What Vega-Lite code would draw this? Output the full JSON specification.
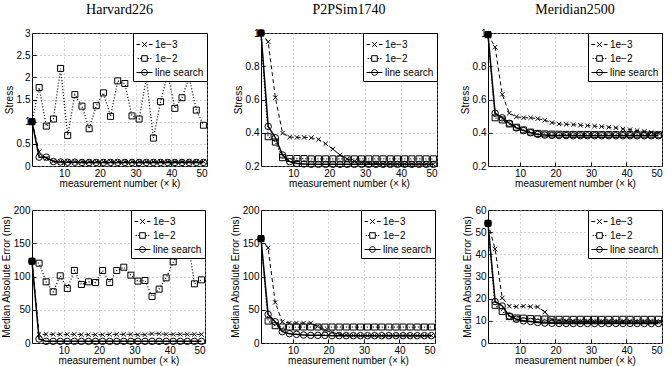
{
"$schema": "https://vega.github.io/schema/vega-lite/v6.json",
"padding": {"left": 0, "top": 2, "right": 0, "bottom": 0},
"background": "white",
"datasets": {
"p1": [
{"s":"1e−3","x":1,"y":1},{"s":"1e−3","x":3,"y":0.32},{"s":"1e−3","x":5,"y":0.17},{"s":"1e−3","x":7,"y":0.11},{"s":"1e−3","x":9,"y":0.1},{"s":"1e−3","x":11,"y":0.1},{"s":"1e−3","x":13,"y":0.1},{"s":"1e−3","x":15,"y":0.1},{"s":"1e−3","x":17,"y":0.1},{"s":"1e−3","x":19,"y":0.1},{"s":"1e−3","x":21,"y":0.1},{"s":"1e−3","x":23,"y":0.1},{"s":"1e−3","x":25,"y":0.1},{"s":"1e−3","x":27,"y":0.1},{"s":"1e−3","x":29,"y":0.1},{"s":"1e−3","x":31,"y":0.1},{"s":"1e−3","x":33,"y":0.1},{"s":"1e−3","x":35,"y":0.1},{"s":"1e−3","x":37,"y":0.1},{"s":"1e−3","x":39,"y":0.1},{"s":"1e−3","x":41,"y":0.1},{"s":"1e−3","x":43,"y":0.1},{"s":"1e−3","x":45,"y":0.1},{"s":"1e−3","x":47,"y":0.1},{"s":"1e−3","x":49,"y":0.1},
{"s":"1e−2","x":1,"y":1},{"s":"1e−2","x":3,"y":1.77},{"s":"1e−2","x":5,"y":0.9},{"s":"1e−2","x":7,"y":1.06},{"s":"1e−2","x":9,"y":2.2},{"s":"1e−2","x":11,"y":0.69},{"s":"1e−2","x":13,"y":1.61},{"s":"1e−2","x":15,"y":1.35},{"s":"1e−2","x":17,"y":0.84},{"s":"1e−2","x":19,"y":1.36},{"s":"1e−2","x":21,"y":1.65},{"s":"1e−2","x":23,"y":1.12},{"s":"1e−2","x":25,"y":1.92},{"s":"1e−2","x":27,"y":1.86},{"s":"1e−2","x":29,"y":1.13},{"s":"1e−2","x":31,"y":1.06},{"s":"1e−2","x":33,"y":1.98},{"s":"1e−2","x":35,"y":0.63},{"s":"1e−2","x":37,"y":1.45},{"s":"1e−2","x":39,"y":2.08},{"s":"1e−2","x":41,"y":1.3},{"s":"1e−2","x":43,"y":1.54},{"s":"1e−2","x":45,"y":2.0},{"s":"1e−2","x":47,"y":1.26},{"s":"1e−2","x":49,"y":0.92},
{"s":"line search","x":1,"y":1},{"s":"line search","x":3,"y":0.2},{"s":"line search","x":5,"y":0.2},{"s":"line search","x":7,"y":0.1},{"s":"line search","x":9,"y":0.09},{"s":"line search","x":11,"y":0.085},{"s":"line search","x":13,"y":0.085},{"s":"line search","x":15,"y":0.08},{"s":"line search","x":17,"y":0.08},{"s":"line search","x":19,"y":0.08},{"s":"line search","x":21,"y":0.08},{"s":"line search","x":23,"y":0.08},{"s":"line search","x":25,"y":0.08},{"s":"line search","x":27,"y":0.08},{"s":"line search","x":29,"y":0.08},{"s":"line search","x":31,"y":0.08},{"s":"line search","x":33,"y":0.08},{"s":"line search","x":35,"y":0.08},{"s":"line search","x":37,"y":0.08},{"s":"line search","x":39,"y":0.08},{"s":"line search","x":41,"y":0.08},{"s":"line search","x":43,"y":0.08},{"s":"line search","x":45,"y":0.08},{"s":"line search","x":47,"y":0.08},{"s":"line search","x":49,"y":0.08}
],
"p2": [
{"s":"1e−3","x":1,"y":1},{"s":"1e−3","x":3,"y":0.947},{"s":"1e−3","x":5,"y":0.611},{"s":"1e−3","x":7,"y":0.398},{"s":"1e−3","x":9,"y":0.374},{"s":"1e−3","x":11,"y":0.372},{"s":"1e−3","x":13,"y":0.372},{"s":"1e−3","x":15,"y":0.37},{"s":"1e−3","x":17,"y":0.36},{"s":"1e−3","x":19,"y":0.334},{"s":"1e−3","x":21,"y":0.302},{"s":"1e−3","x":23,"y":0.266},{"s":"1e−3","x":25,"y":0.242},{"s":"1e−3","x":27,"y":0.228},{"s":"1e−3","x":29,"y":0.222},{"s":"1e−3","x":31,"y":0.218},{"s":"1e−3","x":33,"y":0.215},{"s":"1e−3","x":35,"y":0.213},{"s":"1e−3","x":37,"y":0.212},{"s":"1e−3","x":39,"y":0.211},{"s":"1e−3","x":41,"y":0.21},{"s":"1e−3","x":43,"y":0.21},{"s":"1e−3","x":45,"y":0.21},{"s":"1e−3","x":47,"y":0.21},{"s":"1e−3","x":49,"y":0.21},
{"s":"1e−2","x":1,"y":1},{"s":"1e−2","x":3,"y":0.376},{"s":"1e−2","x":5,"y":0.344},{"s":"1e−2","x":7,"y":0.25},{"s":"1e−2","x":9,"y":0.245},{"s":"1e−2","x":11,"y":0.245},{"s":"1e−2","x":13,"y":0.245},{"s":"1e−2","x":15,"y":0.243},{"s":"1e−2","x":17,"y":0.243},{"s":"1e−2","x":19,"y":0.243},{"s":"1e−2","x":21,"y":0.243},{"s":"1e−2","x":23,"y":0.243},{"s":"1e−2","x":25,"y":0.243},{"s":"1e−2","x":27,"y":0.243},{"s":"1e−2","x":29,"y":0.243},{"s":"1e−2","x":31,"y":0.243},{"s":"1e−2","x":33,"y":0.243},{"s":"1e−2","x":35,"y":0.243},{"s":"1e−2","x":37,"y":0.243},{"s":"1e−2","x":39,"y":0.243},{"s":"1e−2","x":41,"y":0.243},{"s":"1e−2","x":43,"y":0.243},{"s":"1e−2","x":45,"y":0.243},{"s":"1e−2","x":47,"y":0.243},{"s":"1e−2","x":49,"y":0.243},
{"s":"line search","x":1,"y":1},{"s":"line search","x":3,"y":0.438},{"s":"line search","x":5,"y":0.37},{"s":"line search","x":7,"y":0.266},{"s":"line search","x":9,"y":0.226},{"s":"line search","x":11,"y":0.215},{"s":"line search","x":13,"y":0.212},{"s":"line search","x":15,"y":0.21},{"s":"line search","x":17,"y":0.21},{"s":"line search","x":19,"y":0.21},{"s":"line search","x":21,"y":0.21},{"s":"line search","x":23,"y":0.21},{"s":"line search","x":25,"y":0.21},{"s":"line search","x":27,"y":0.21},{"s":"line search","x":29,"y":0.21},{"s":"line search","x":31,"y":0.21},{"s":"line search","x":33,"y":0.21},{"s":"line search","x":35,"y":0.21},{"s":"line search","x":37,"y":0.21},{"s":"line search","x":39,"y":0.21},{"s":"line search","x":41,"y":0.21},{"s":"line search","x":43,"y":0.21},{"s":"line search","x":45,"y":0.21},{"s":"line search","x":47,"y":0.21},{"s":"line search","x":49,"y":0.21}
],
"p3": [
{"s":"1e−3","x":1,"y":0.99},{"s":"1e−3","x":3,"y":0.915},{"s":"1e−3","x":5,"y":0.631},{"s":"1e−3","x":7,"y":0.518},{"s":"1e−3","x":9,"y":0.496},{"s":"1e−3","x":11,"y":0.49},{"s":"1e−3","x":13,"y":0.49},{"s":"1e−3","x":15,"y":0.485},{"s":"1e−3","x":17,"y":0.475},{"s":"1e−3","x":19,"y":0.461},{"s":"1e−3","x":21,"y":0.453},{"s":"1e−3","x":23,"y":0.451},{"s":"1e−3","x":25,"y":0.449},{"s":"1e−3","x":27,"y":0.445},{"s":"1e−3","x":29,"y":0.443},{"s":"1e−3","x":31,"y":0.44},{"s":"1e−3","x":33,"y":0.437},{"s":"1e−3","x":35,"y":0.433},{"s":"1e−3","x":37,"y":0.43},{"s":"1e−3","x":39,"y":0.423},{"s":"1e−3","x":41,"y":0.419},{"s":"1e−3","x":43,"y":0.413},{"s":"1e−3","x":45,"y":0.408},{"s":"1e−3","x":47,"y":0.402},{"s":"1e−3","x":49,"y":0.398},
{"s":"1e−2","x":1,"y":0.99},{"s":"1e−2","x":3,"y":0.49},{"s":"1e−2","x":5,"y":0.477},{"s":"1e−2","x":7,"y":0.453},{"s":"1e−2","x":9,"y":0.433},{"s":"1e−2","x":11,"y":0.417},{"s":"1e−2","x":13,"y":0.404},{"s":"1e−2","x":15,"y":0.396},{"s":"1e−2","x":17,"y":0.393},{"s":"1e−2","x":19,"y":0.392},{"s":"1e−2","x":21,"y":0.391},{"s":"1e−2","x":23,"y":0.39},{"s":"1e−2","x":25,"y":0.39},{"s":"1e−2","x":27,"y":0.39},{"s":"1e−2","x":29,"y":0.39},{"s":"1e−2","x":31,"y":0.389},{"s":"1e−2","x":33,"y":0.389},{"s":"1e−2","x":35,"y":0.389},{"s":"1e−2","x":37,"y":0.389},{"s":"1e−2","x":39,"y":0.389},{"s":"1e−2","x":41,"y":0.389},{"s":"1e−2","x":43,"y":0.388},{"s":"1e−2","x":45,"y":0.388},{"s":"1e−2","x":47,"y":0.388},{"s":"1e−2","x":49,"y":0.388},
{"s":"line search","x":1,"y":0.99},{"s":"line search","x":3,"y":0.518},{"s":"line search","x":5,"y":0.49},{"s":"line search","x":7,"y":0.457},{"s":"line search","x":9,"y":0.429},{"s":"line search","x":11,"y":0.413},{"s":"line search","x":13,"y":0.4},{"s":"line search","x":15,"y":0.39},{"s":"line search","x":17,"y":0.386},{"s":"line search","x":19,"y":0.384},{"s":"line search","x":21,"y":0.383},{"s":"line search","x":23,"y":0.383},{"s":"line search","x":25,"y":0.382},{"s":"line search","x":27,"y":0.382},{"s":"line search","x":29,"y":0.382},{"s":"line search","x":31,"y":0.382},{"s":"line search","x":33,"y":0.382},{"s":"line search","x":35,"y":0.382},{"s":"line search","x":37,"y":0.382},{"s":"line search","x":39,"y":0.382},{"s":"line search","x":41,"y":0.382},{"s":"line search","x":43,"y":0.382},{"s":"line search","x":45,"y":0.382},{"s":"line search","x":47,"y":0.382},{"s":"line search","x":49,"y":0.382}
],
"p4": [
{"s":"1e−3","x":1,"y":123},{"s":"1e−3","x":3,"y":13},{"s":"1e−3","x":5,"y":13},{"s":"1e−3","x":7,"y":13},{"s":"1e−3","x":9,"y":13},{"s":"1e−3","x":11,"y":13},{"s":"1e−3","x":13,"y":13},{"s":"1e−3","x":15,"y":12.5},{"s":"1e−3","x":17,"y":12.5},{"s":"1e−3","x":19,"y":12.5},{"s":"1e−3","x":21,"y":12.5},{"s":"1e−3","x":23,"y":13},{"s":"1e−3","x":25,"y":13},{"s":"1e−3","x":27,"y":13},{"s":"1e−3","x":29,"y":13},{"s":"1e−3","x":31,"y":12.5},{"s":"1e−3","x":33,"y":12.5},{"s":"1e−3","x":35,"y":14},{"s":"1e−3","x":37,"y":14},{"s":"1e−3","x":39,"y":13},{"s":"1e−3","x":41,"y":13},{"s":"1e−3","x":43,"y":13},{"s":"1e−3","x":45,"y":13},{"s":"1e−3","x":47,"y":13},{"s":"1e−3","x":49,"y":13},
{"s":"1e−2","x":1,"y":123},{"s":"1e−2","x":3,"y":120},{"s":"1e−2","x":5,"y":92},{"s":"1e−2","x":7,"y":77},{"s":"1e−2","x":9,"y":101},{"s":"1e−2","x":11,"y":82},{"s":"1e−2","x":13,"y":109},{"s":"1e−2","x":15,"y":88},{"s":"1e−2","x":17,"y":92},{"s":"1e−2","x":19,"y":91},{"s":"1e−2","x":21,"y":109},{"s":"1e−2","x":23,"y":91},{"s":"1e−2","x":25,"y":109},{"s":"1e−2","x":27,"y":114},{"s":"1e−2","x":29,"y":102},{"s":"1e−2","x":31,"y":93},{"s":"1e−2","x":33,"y":94},{"s":"1e−2","x":35,"y":70},{"s":"1e−2","x":37,"y":81},{"s":"1e−2","x":39,"y":98},{"s":"1e−2","x":41,"y":122},{"s":"1e−2","x":43,"y":138},{"s":"1e−2","x":45,"y":160},{"s":"1e−2","x":47,"y":89},{"s":"1e−2","x":49,"y":95},
{"s":"line search","x":1,"y":123},{"s":"line search","x":3,"y":6},{"s":"line search","x":5,"y":2.5},{"s":"line search","x":7,"y":2.5},{"s":"line search","x":9,"y":2.5},{"s":"line search","x":11,"y":2.5},{"s":"line search","x":13,"y":2.5},{"s":"line search","x":15,"y":2.5},{"s":"line search","x":17,"y":2.5},{"s":"line search","x":19,"y":2.5},{"s":"line search","x":21,"y":2.5},{"s":"line search","x":23,"y":2.5},{"s":"line search","x":25,"y":2.5},{"s":"line search","x":27,"y":2.5},{"s":"line search","x":29,"y":2.5},{"s":"line search","x":31,"y":2.5},{"s":"line search","x":33,"y":2.5},{"s":"line search","x":35,"y":2.5},{"s":"line search","x":37,"y":2.5},{"s":"line search","x":39,"y":2.5},{"s":"line search","x":41,"y":2.5},{"s":"line search","x":43,"y":2.5},{"s":"line search","x":45,"y":2.5},{"s":"line search","x":47,"y":2.5},{"s":"line search","x":49,"y":2.5}
],
"p5": [
{"s":"1e−3","x":1,"y":157},{"s":"1e−3","x":3,"y":143},{"s":"1e−3","x":5,"y":61},{"s":"1e−3","x":7,"y":32},{"s":"1e−3","x":9,"y":30},{"s":"1e−3","x":11,"y":30},{"s":"1e−3","x":13,"y":30},{"s":"1e−3","x":15,"y":30},{"s":"1e−3","x":17,"y":25},{"s":"1e−3","x":19,"y":19},{"s":"1e−3","x":21,"y":16},{"s":"1e−3","x":23,"y":13},{"s":"1e−3","x":25,"y":12},{"s":"1e−3","x":27,"y":11.5},{"s":"1e−3","x":29,"y":11},{"s":"1e−3","x":31,"y":11},{"s":"1e−3","x":33,"y":11},{"s":"1e−3","x":35,"y":11},{"s":"1e−3","x":37,"y":11},{"s":"1e−3","x":39,"y":11},{"s":"1e−3","x":41,"y":11},{"s":"1e−3","x":43,"y":11},{"s":"1e−3","x":45,"y":11},{"s":"1e−3","x":47,"y":11},{"s":"1e−3","x":49,"y":11},
{"s":"1e−2","x":1,"y":157},{"s":"1e−2","x":3,"y":33},{"s":"1e−2","x":5,"y":26},{"s":"1e−2","x":7,"y":24},{"s":"1e−2","x":9,"y":24},{"s":"1e−2","x":11,"y":24},{"s":"1e−2","x":13,"y":24},{"s":"1e−2","x":15,"y":24},{"s":"1e−2","x":17,"y":24},{"s":"1e−2","x":19,"y":24},{"s":"1e−2","x":21,"y":24},{"s":"1e−2","x":23,"y":24},{"s":"1e−2","x":25,"y":24},{"s":"1e−2","x":27,"y":24},{"s":"1e−2","x":29,"y":24},{"s":"1e−2","x":31,"y":24},{"s":"1e−2","x":33,"y":24},{"s":"1e−2","x":35,"y":24},{"s":"1e−2","x":37,"y":24},{"s":"1e−2","x":39,"y":24},{"s":"1e−2","x":41,"y":24},{"s":"1e−2","x":43,"y":24},{"s":"1e−2","x":45,"y":24},{"s":"1e−2","x":47,"y":24},{"s":"1e−2","x":49,"y":24},
{"s":"line search","x":1,"y":157},{"s":"line search","x":3,"y":43},{"s":"line search","x":5,"y":32},{"s":"line search","x":7,"y":17},{"s":"line search","x":9,"y":14},{"s":"line search","x":11,"y":13},{"s":"line search","x":13,"y":12},{"s":"line search","x":15,"y":11.5},{"s":"line search","x":17,"y":11.5},{"s":"line search","x":19,"y":11.5},{"s":"line search","x":21,"y":11},{"s":"line search","x":23,"y":11},{"s":"line search","x":25,"y":11},{"s":"line search","x":27,"y":11},{"s":"line search","x":29,"y":11},{"s":"line search","x":31,"y":11},{"s":"line search","x":33,"y":11},{"s":"line search","x":35,"y":11},{"s":"line search","x":37,"y":11},{"s":"line search","x":39,"y":11},{"s":"line search","x":41,"y":11},{"s":"line search","x":43,"y":11},{"s":"line search","x":45,"y":11},{"s":"line search","x":47,"y":11},{"s":"line search","x":49,"y":11}
],
"p6": [
{"s":"1e−3","x":1,"y":54},{"s":"1e−3","x":3,"y":42.4},{"s":"1e−3","x":5,"y":20.3},{"s":"1e−3","x":7,"y":16.6},{"s":"1e−3","x":9,"y":16.4},{"s":"1e−3","x":11,"y":16.6},{"s":"1e−3","x":13,"y":16.4},{"s":"1e−3","x":15,"y":16.3},{"s":"1e−3","x":17,"y":14},{"s":"1e−3","x":19,"y":10.6},{"s":"1e−3","x":21,"y":10.1},{"s":"1e−3","x":23,"y":9.9},{"s":"1e−3","x":25,"y":9.8},{"s":"1e−3","x":27,"y":9.7},{"s":"1e−3","x":29,"y":9.7},{"s":"1e−3","x":31,"y":9.6},{"s":"1e−3","x":33,"y":9.6},{"s":"1e−3","x":35,"y":9.5},{"s":"1e−3","x":37,"y":9.5},{"s":"1e−3","x":39,"y":9.5},{"s":"1e−3","x":41,"y":9.4},{"s":"1e−3","x":43,"y":9.4},{"s":"1e−3","x":45,"y":9.4},{"s":"1e−3","x":47,"y":9.4},{"s":"1e−3","x":49,"y":9.4},
{"s":"1e−2","x":1,"y":54},{"s":"1e−2","x":3,"y":17},{"s":"1e−2","x":5,"y":14.2},{"s":"1e−2","x":7,"y":11.9},{"s":"1e−2","x":9,"y":11.3},{"s":"1e−2","x":11,"y":11.2},{"s":"1e−2","x":13,"y":11},{"s":"1e−2","x":15,"y":10.9},{"s":"1e−2","x":17,"y":10.8},{"s":"1e−2","x":19,"y":10.7},{"s":"1e−2","x":21,"y":10.7},{"s":"1e−2","x":23,"y":10.7},{"s":"1e−2","x":25,"y":10.7},{"s":"1e−2","x":27,"y":10.7},{"s":"1e−2","x":29,"y":10.7},{"s":"1e−2","x":31,"y":10.7},{"s":"1e−2","x":33,"y":10.7},{"s":"1e−2","x":35,"y":10.7},{"s":"1e−2","x":37,"y":10.7},{"s":"1e−2","x":39,"y":10.7},{"s":"1e−2","x":41,"y":10.7},{"s":"1e−2","x":43,"y":10.7},{"s":"1e−2","x":45,"y":10.7},{"s":"1e−2","x":47,"y":10.7},{"s":"1e−2","x":49,"y":10.7},
{"s":"line search","x":1,"y":54},{"s":"line search","x":3,"y":18.7},{"s":"line search","x":5,"y":16.7},{"s":"line search","x":7,"y":12.2},{"s":"line search","x":9,"y":10.7},{"s":"line search","x":11,"y":10},{"s":"line search","x":13,"y":9.7},{"s":"line search","x":15,"y":9.25},{"s":"line search","x":17,"y":9},{"s":"line search","x":19,"y":8.9},{"s":"line search","x":21,"y":8.8},{"s":"line search","x":23,"y":8.8},{"s":"line search","x":25,"y":8.8},{"s":"line search","x":27,"y":8.8},{"s":"line search","x":29,"y":8.8},{"s":"line search","x":31,"y":8.8},{"s":"line search","x":33,"y":8.8},{"s":"line search","x":35,"y":8.8},{"s":"line search","x":37,"y":8.8},{"s":"line search","x":39,"y":8.8},{"s":"line search","x":41,"y":8.8},{"s":"line search","x":43,"y":8.8},{"s":"line search","x":45,"y":8.8},{"s":"line search","x":47,"y":8.8},{"s":"line search","x":49,"y":8.8}
]
},
"columns": 3,
"align": "each",
"spacing": {"row": 15, "column": 17},
"resolve": {"scale": {"strokeDash": "independent", "shape": "independent", "strokeWidth": "independent", "size": "independent"}, "legend": {"strokeDash": "independent", "shape": "independent", "strokeWidth": "independent", "size": "independent"}},
"concat": [
{"title": "Harvard226", "width": 175, "height": 133, "data": {"name": "p1"},
 "encoding": {"x": {"field": "x", "type": "quantitative", "scale": {"domain": [1, 50]}, "axis": {"values": [10,20,30,40,50], "title": "measurement number (× k)"}},
   "y": {"field": "y", "type": "quantitative", "scale": {"domain": [0, 3]}, "axis": {"values": [0,0.5,1,1.5,2,2.5,3], "format": "~r", "title": "Stress"}}},
 "resolve": {"scale": {"shape": "independent"}, "legend": {"shape": "independent"}},
 "layer": [
  {"mark": {"type": "line", "color": "black"}, "encoding": {"strokeDash": {"field": "s", "type": "nominal", "scale": {"domain": ["line search","1e−2","1e−3"], "range": [[1,0],[1,2],[4,3]]}, "legend": null}, "strokeWidth": {"field": "s", "type": "nominal", "scale": {"domain": ["line search","1e−2","1e−3"], "range": [1.5,1,1]}, "legend": null}}},
  {"mark": {"type": "point", "color": "black", "filled": false, "strokeWidth": 1, "opacity": 1}, "encoding": {"shape": {"field": "s", "type": "nominal", "scale": {"domain": ["line search","1e−2","1e−3"], "range": ["circle","square","M-0.8,-0.8L0.8,0.8M-0.8,0.8L0.8,-0.8"]}, "legend": null}, "size": {"field": "s", "type": "nominal", "scale": {"domain": ["line search","1e−2","1e−3"], "range": [42,30,25]}, "legend": null}, "fill": {"condition": {"test": "datum.x === 1 && datum.s === 'line search'", "value": "black"}, "value": "transparent"}}},
  {"mark": {"type": "point", "color": "black", "filled": false, "strokeWidth": 1, "opacity": 0, "size": 256}, "encoding": {"shape": {"field": "s", "type": "nominal", "scale": {"domain": ["1e−3","1e−2","line search"], "range": ["M-1,0L-0.55,0M0.55,0L1,0M-0.3,-0.3L0.3,0.3M-0.3,0.3L0.3,-0.3","M-0.85,0L-0.7,0M-0.55,0L-0.4,0M0.4,0L0.55,0M0.7,0L0.85,0M-0.35,-0.35L0.35,-0.35L0.35,0.35L-0.35,0.35Z","M-1,0L1,0M0.35,0A0.35,0.35,0,1,1,-0.35,0A0.35,0.35,0,1,1,0.35,0Z"]}, "legend": {"title": null}}}}
 ]},
{"title": "P2PSim1740", "width": 176, "height": 133, "data": {"name": "p2"},
 "encoding": {"x": {"field": "x", "type": "quantitative", "scale": {"domain": [1, 50]}, "axis": {"values": [10,20,30,40,50], "title": "measurement number (× k)"}},
   "y": {"field": "y", "type": "quantitative", "scale": {"domain": [0.2, 1]}, "axis": {"values": [0.2,0.4,0.6,0.8,1], "format": "~r", "title": "Stress"}}},
 "resolve": {"scale": {"shape": "independent"}, "legend": {"shape": "independent"}},
 "layer": [
  {"mark": {"type": "line", "color": "black"}, "encoding": {"strokeDash": {"field": "s", "type": "nominal", "scale": {"domain": ["line search","1e−2","1e−3"], "range": [[1,0],[1,2],[4,3]]}, "legend": null}, "strokeWidth": {"field": "s", "type": "nominal", "scale": {"domain": ["line search","1e−2","1e−3"], "range": [1.5,1,1]}, "legend": null}}},
  {"mark": {"type": "point", "color": "black", "filled": false, "strokeWidth": 1, "opacity": 1}, "encoding": {"shape": {"field": "s", "type": "nominal", "scale": {"domain": ["line search","1e−2","1e−3"], "range": ["circle","square","M-0.8,-0.8L0.8,0.8M-0.8,0.8L0.8,-0.8"]}, "legend": null}, "size": {"field": "s", "type": "nominal", "scale": {"domain": ["line search","1e−2","1e−3"], "range": [42,30,25]}, "legend": null}, "fill": {"condition": {"test": "datum.x === 1 && datum.s === 'line search'", "value": "black"}, "value": "transparent"}}},
  {"mark": {"type": "point", "color": "black", "filled": false, "strokeWidth": 1, "opacity": 0, "size": 256}, "encoding": {"shape": {"field": "s", "type": "nominal", "scale": {"domain": ["1e−3","1e−2","line search"], "range": ["M-1,0L-0.55,0M0.55,0L1,0M-0.3,-0.3L0.3,0.3M-0.3,0.3L0.3,-0.3","M-0.85,0L-0.7,0M-0.55,0L-0.4,0M0.4,0L0.55,0M0.7,0L0.85,0M-0.35,-0.35L0.35,-0.35L0.35,0.35L-0.35,0.35Z","M-1,0L1,0M0.35,0A0.35,0.35,0,1,1,-0.35,0A0.35,0.35,0,1,1,0.35,0Z"]}, "legend": {"title": null}}}}
 ]},
{"title": "Meridian2500", "width": 174, "height": 133, "data": {"name": "p3"},
 "encoding": {"x": {"field": "x", "type": "quantitative", "scale": {"domain": [1, 50]}, "axis": {"values": [10,20,30,40,50], "title": "measurement number (× k)"}},
   "y": {"field": "y", "type": "quantitative", "scale": {"domain": [0.2, 1]}, "axis": {"values": [0.2,0.4,0.6,0.8,1], "format": "~r", "title": "Stress"}}},
 "resolve": {"scale": {"shape": "independent"}, "legend": {"shape": "independent"}},
 "layer": [
  {"mark": {"type": "line", "color": "black"}, "encoding": {"strokeDash": {"field": "s", "type": "nominal", "scale": {"domain": ["line search","1e−2","1e−3"], "range": [[1,0],[1,2],[4,3]]}, "legend": null}, "strokeWidth": {"field": "s", "type": "nominal", "scale": {"domain": ["line search","1e−2","1e−3"], "range": [1.5,1,1]}, "legend": null}}},
  {"mark": {"type": "point", "color": "black", "filled": false, "strokeWidth": 1, "opacity": 1}, "encoding": {"shape": {"field": "s", "type": "nominal", "scale": {"domain": ["line search","1e−2","1e−3"], "range": ["circle","square","M-0.8,-0.8L0.8,0.8M-0.8,0.8L0.8,-0.8"]}, "legend": null}, "size": {"field": "s", "type": "nominal", "scale": {"domain": ["line search","1e−2","1e−3"], "range": [42,30,25]}, "legend": null}, "fill": {"condition": {"test": "datum.x === 1 && datum.s === 'line search'", "value": "black"}, "value": "transparent"}}},
  {"mark": {"type": "point", "color": "black", "filled": false, "strokeWidth": 1, "opacity": 0, "size": 256}, "encoding": {"shape": {"field": "s", "type": "nominal", "scale": {"domain": ["1e−3","1e−2","line search"], "range": ["M-1,0L-0.55,0M0.55,0L1,0M-0.3,-0.3L0.3,0.3M-0.3,0.3L0.3,-0.3","M-0.85,0L-0.7,0M-0.55,0L-0.4,0M0.4,0L0.55,0M0.7,0L0.85,0M-0.35,-0.35L0.35,-0.35L0.35,0.35L-0.35,0.35Z","M-1,0L1,0M0.35,0A0.35,0.35,0,1,1,-0.35,0A0.35,0.35,0,1,1,0.35,0Z"]}, "legend": {"title": null}}}}
 ]},
{"width": 173, "height": 133, "data": {"name": "p4"},
 "encoding": {"x": {"field": "x", "type": "quantitative", "scale": {"domain": [1, 50]}, "axis": {"values": [10,20,30,40,50], "title": "measurement number (× k)"}},
   "y": {"field": "y", "type": "quantitative", "scale": {"domain": [0, 200]}, "axis": {"values": [0,50,100,150,200], "format": "~r", "title": "Median Absolute Error (ms)"}}},
 "resolve": {"scale": {"shape": "independent"}, "legend": {"shape": "independent"}},
 "layer": [
  {"mark": {"type": "line", "color": "black"}, "encoding": {"strokeDash": {"field": "s", "type": "nominal", "scale": {"domain": ["line search","1e−2","1e−3"], "range": [[1,0],[1,2],[4,3]]}, "legend": null}, "strokeWidth": {"field": "s", "type": "nominal", "scale": {"domain": ["line search","1e−2","1e−3"], "range": [1.5,1,1]}, "legend": null}}},
  {"mark": {"type": "point", "color": "black", "filled": false, "strokeWidth": 1, "opacity": 1}, "encoding": {"shape": {"field": "s", "type": "nominal", "scale": {"domain": ["line search","1e−2","1e−3"], "range": ["circle","square","M-0.8,-0.8L0.8,0.8M-0.8,0.8L0.8,-0.8"]}, "legend": null}, "size": {"field": "s", "type": "nominal", "scale": {"domain": ["line search","1e−2","1e−3"], "range": [42,30,25]}, "legend": null}, "fill": {"condition": {"test": "datum.x === 1 && datum.s === 'line search'", "value": "black"}, "value": "transparent"}}},
  {"mark": {"type": "point", "color": "black", "filled": false, "strokeWidth": 1, "opacity": 0, "size": 256}, "encoding": {"shape": {"field": "s", "type": "nominal", "scale": {"domain": ["1e−3","1e−2","line search"], "range": ["M-1,0L-0.55,0M0.55,0L1,0M-0.3,-0.3L0.3,0.3M-0.3,0.3L0.3,-0.3","M-0.85,0L-0.7,0M-0.55,0L-0.4,0M0.4,0L0.55,0M0.7,0L0.85,0M-0.35,-0.35L0.35,-0.35L0.35,0.35L-0.35,0.35Z","M-1,0L1,0M0.35,0A0.35,0.35,0,1,1,-0.35,0A0.35,0.35,0,1,1,0.35,0Z"]}, "legend": {"title": null}}}}
 ]},
{"width": 174, "height": 133, "data": {"name": "p5"},
 "encoding": {"x": {"field": "x", "type": "quantitative", "scale": {"domain": [1, 50]}, "axis": {"values": [10,20,30,40,50], "title": "measurement number (× k)"}},
   "y": {"field": "y", "type": "quantitative", "scale": {"domain": [0, 200]}, "axis": {"values": [0,50,100,150,200], "format": "~r", "title": "Median Absolute Error (ms)"}}},
 "resolve": {"scale": {"shape": "independent"}, "legend": {"shape": "independent"}},
 "layer": [
  {"mark": {"type": "line", "color": "black"}, "encoding": {"strokeDash": {"field": "s", "type": "nominal", "scale": {"domain": ["line search","1e−2","1e−3"], "range": [[1,0],[1,2],[4,3]]}, "legend": null}, "strokeWidth": {"field": "s", "type": "nominal", "scale": {"domain": ["line search","1e−2","1e−3"], "range": [1.5,1,1]}, "legend": null}}},
  {"mark": {"type": "point", "color": "black", "filled": false, "strokeWidth": 1, "opacity": 1}, "encoding": {"shape": {"field": "s", "type": "nominal", "scale": {"domain": ["line search","1e−2","1e−3"], "range": ["circle","square","M-0.8,-0.8L0.8,0.8M-0.8,0.8L0.8,-0.8"]}, "legend": null}, "size": {"field": "s", "type": "nominal", "scale": {"domain": ["line search","1e−2","1e−3"], "range": [42,30,25]}, "legend": null}, "fill": {"condition": {"test": "datum.x === 1 && datum.s === 'line search'", "value": "black"}, "value": "transparent"}}},
  {"mark": {"type": "point", "color": "black", "filled": false, "strokeWidth": 1, "opacity": 0, "size": 256}, "encoding": {"shape": {"field": "s", "type": "nominal", "scale": {"domain": ["1e−3","1e−2","line search"], "range": ["M-1,0L-0.55,0M0.55,0L1,0M-0.3,-0.3L0.3,0.3M-0.3,0.3L0.3,-0.3","M-0.85,0L-0.7,0M-0.55,0L-0.4,0M0.4,0L0.55,0M0.7,0L0.85,0M-0.35,-0.35L0.35,-0.35L0.35,0.35L-0.35,0.35Z","M-1,0L1,0M0.35,0A0.35,0.35,0,1,1,-0.35,0A0.35,0.35,0,1,1,0.35,0Z"]}, "legend": {"title": null}}}}
 ]},
{"width": 174, "height": 133, "data": {"name": "p6"},
 "encoding": {"x": {"field": "x", "type": "quantitative", "scale": {"domain": [1, 50]}, "axis": {"values": [10,20,30,40,50], "title": "measurement number (× k)"}},
   "y": {"field": "y", "type": "quantitative", "scale": {"domain": [0, 60]}, "axis": {"values": [0,10,20,30,40,50,60], "format": "~r", "title": "Median Absolute Error (ms)"}}},
 "resolve": {"scale": {"shape": "independent"}, "legend": {"shape": "independent"}},
 "layer": [
  {"mark": {"type": "line", "color": "black"}, "encoding": {"strokeDash": {"field": "s", "type": "nominal", "scale": {"domain": ["line search","1e−2","1e−3"], "range": [[1,0],[1,2],[4,3]]}, "legend": null}, "strokeWidth": {"field": "s", "type": "nominal", "scale": {"domain": ["line search","1e−2","1e−3"], "range": [1.5,1,1]}, "legend": null}}},
  {"mark": {"type": "point", "color": "black", "filled": false, "strokeWidth": 1, "opacity": 1}, "encoding": {"shape": {"field": "s", "type": "nominal", "scale": {"domain": ["line search","1e−2","1e−3"], "range": ["circle","square","M-0.8,-0.8L0.8,0.8M-0.8,0.8L0.8,-0.8"]}, "legend": null}, "size": {"field": "s", "type": "nominal", "scale": {"domain": ["line search","1e−2","1e−3"], "range": [42,30,25]}, "legend": null}, "fill": {"condition": {"test": "datum.x === 1 && datum.s === 'line search'", "value": "black"}, "value": "transparent"}}},
  {"mark": {"type": "point", "color": "black", "filled": false, "strokeWidth": 1, "opacity": 0, "size": 256}, "encoding": {"shape": {"field": "s", "type": "nominal", "scale": {"domain": ["1e−3","1e−2","line search"], "range": ["M-1,0L-0.55,0M0.55,0L1,0M-0.3,-0.3L0.3,0.3M-0.3,0.3L0.3,-0.3","M-0.85,0L-0.7,0M-0.55,0L-0.4,0M0.4,0L0.55,0M0.7,0L0.85,0M-0.35,-0.35L0.35,-0.35L0.35,0.35L-0.35,0.35Z","M-1,0L1,0M0.35,0A0.35,0.35,0,1,1,-0.35,0A0.35,0.35,0,1,1,0.35,0Z"]}, "legend": {"title": null}}}}
 ]}
],
"config": {
  "font": "Liberation Sans",
  "view": {"stroke": "black", "strokeWidth": 1},
  "axis": {"domain": false, "grid": true, "gridColor": "#a8a8a8", "gridDash": [1, 3], "gridWidth": 1, "labelFont": "Liberation Sans", "labelFontSize": 10, "labelColor": "black", "titleFont": "Liberation Sans", "titleFontSize": 10, "titleFontWeight": "normal", "titleColor": "black", "tickColor": "black", "tickSize": -4, "labelPadding": 6},
  "axisX": {"titlePadding": 0},
  "axisY": {"titlePadding": 2},
  "title": {"font": "Liberation Serif", "fontSize": 14, "fontWeight": "normal", "color": "black", "offset": 11, "anchor": "middle"},
  "legend": {"orient": "top-right", "offset": 0, "fillColor": "white", "strokeColor": "black", "padding": 3, "labelFont": "Liberation Sans", "labelFontSize": 10, "labelColor": "black", "symbolSize": 256, "symbolStrokeColor": "black", "symbolFillColor": "transparent", "symbolStrokeWidth": 1, "symbolOpacity": 1, "rowPadding": -4, "labelOffset": 2}
}
}
